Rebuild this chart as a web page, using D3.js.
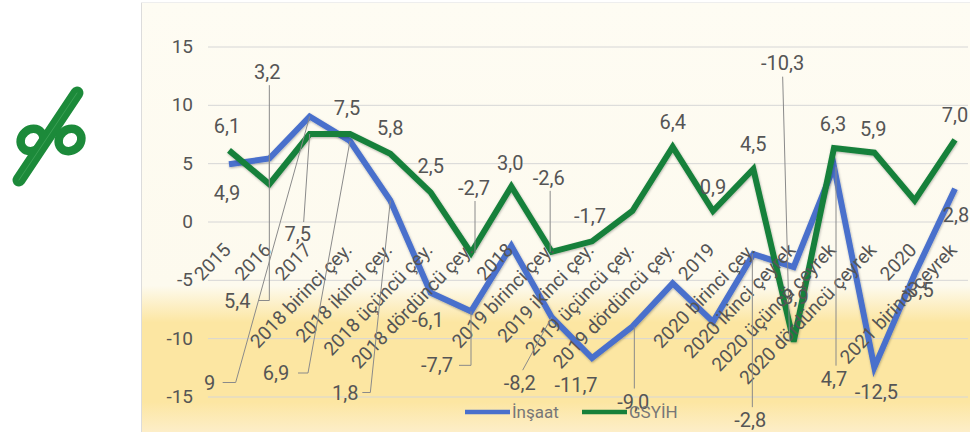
<!DOCTYPE html>
<html><head><meta charset="utf-8">
<script src="https://cdn.jsdelivr.net/npm/d3@7"></script>
<style>
html,body{margin:0;padding:0;background:#fff;}
svg{display:block;font-family:Roboto,"Noto Sans",sans-serif;}
</style></head><body>
<svg id="c" width="970" height="435"></svg>
<script>
// ---------- data ----------
const categories = ["2015","2016","2017","2018 birinci çey.","2018 ikinci çey.","2018 üçüncü çey.","2018 dördüncü çey.","2018","2019 birinci çey.","2019 ikinci çey.","2019 üçüncü çey.","2019 dördüncü çey.","2019","2020 birinci çey.","2020 ikinci çeyrek","2020 üçüncü çeyrek","2020 dördüncü çeyrek","2020","2021 birinci çeyrek"];
const insaat = [4.9,5.4,9.0,6.9,1.8,-6.1,-7.7,-2.1,-8.2,-11.7,-9.0,-5.3,-8.6,-2.8,-3.9,4.7,-12.5,-4.5,2.8];
const gsyih  = [6.1,3.2,7.5,7.5,5.8,2.5,-2.7,3.0,-2.6,-1.7,0.9,6.4,0.9,4.5,-10.3,6.3,5.9,1.8,7.0];
const insaatLabels = ["4,9","5,4","9","6,9","1,8","-6,1","-7,7",null,"-8,2","-11,7","-9,0",null,null,"-2,8","-3,9","4,7","-12,5","-3,5","2,8"];
const gsyihLabels  = ["6,1","3,2","7,5","7,5","5,8","2,5","-2,7","3,0","-2,6","-1,7",null,"6,4","0,9","4,5","-10,3","6,3","5,9",null,"7,0"];
const yTicks = [15,10,5,0,-5,-10,-15];
const seriesNames = ["İnşaat","GSYİH"];

// ---------- label layout (offsets from data point, px) ----------
const labelLayout = [
  {s:"g",i:0,dx:-2,dy:-24},
  {s:"g",i:1,dx:-2,dy:-112,lead:{t:"v",lx:2}},
  {s:"g",i:2,dx:-12,dy:100,lead:{t:"line",lx:6,ly:-12}},
  {s:"g",i:3,dx:-3,dy:-26},
  {s:"g",i:4,dx:0,dy:-26},
  {s:"g",i:5,dx:0,dy:-26},
  {s:"g",i:6,dx:3,dy:-65,lead:{t:"v",lx:1}},
  {s:"g",i:7,dx:-1,dy:-24},
  {s:"g",i:8,dx:-3,dy:-74,lead:{t:"v",lx:1.5}},
  {s:"g",i:9,dx:-2,dy:-25},
  {s:"g",i:11,dx:0,dy:-25},
  {s:"g",i:12,dx:0,dy:-24},
  {s:"g",i:13,dx:0,dy:-25},
  {s:"g",i:14,dx:-11,dy:-279,lead:{t:"line",lx:0,ly:14,ex:-4}},
  {s:"g",i:15,dx:-1,dy:-24},
  {s:"g",i:16,dx:-1,dy:-24},
  {s:"g",i:18,dx:0,dy:-25},
  {s:"b",i:0,dx:-2,dy:29},
  {s:"b",i:1,dx:-32,dy:142,lead:{t:"bracket",h0:21,h1:32}},
  {s:"b",i:2,dx:-100,dy:266,lead:{t:"bracket",h0:13,h1:26}},
  {s:"b",i:3,dx:-74,dy:232,lead:{t:"bracket",h0:22,h1:32}},
  {s:"b",i:4,dx:-45,dy:192,lead:{t:"bracket",h0:17,h1:25}},
  {s:"b",i:5,dx:-3,dy:27},
  {s:"b",i:6,dx:-34,dy:54,lead:{t:"bracket",h0:22,h1:34}},
  {s:"b",i:8,dx:-32,dy:66,lead:{t:"line",lx:3,ly:-13}},
  {s:"b",i:9,dx:-16,dy:27},
  {s:"b",i:10,dx:1,dy:75,lead:{t:"v",lx:1}},
  {s:"b",i:13,dx:-3,dy:166,lead:{t:"v",lx:2}},
  {s:"b",i:14,dx:-1,dy:30},
  {s:"b",i:15,dx:0,dy:212,lead:{t:"v",lx:2}},
  {s:"b",i:16,dx:2,dy:25},
  {s:"b",i:17,dx:3,dy:16},
  {s:"b",i:18,dx:1,dy:26}
];

// ---------- drawing ----------
const svg = d3.select("#c");
const blue = "#4a70cc", green = "#17803a", textCol = "#555";
const x = d3.scalePoint().domain(categories).range([229,955]);
const y = d3.scaleLinear().domain([-15,15]).range([396.5,46.5]);

const defs = svg.append("defs");
const gr = defs.append("linearGradient").attr("id","bg").attr("x1",0).attr("y1",0).attr("x2",0).attr("y2",1);
[[0,"#fefcf3"],[0.66,"#fdfaee"],[0.745,"#fce6a2"],[0.93,"#fce6a2"],[1,"#fdeec8"]].forEach(s=>
  gr.append("stop").attr("offset",s[0]).attr("stop-color",s[1]));
const f = defs.append("filter").attr("id","sh").attr("x","-5%").attr("y","-5%").attr("width","110%").attr("height","110%");
f.append("feDropShadow").attr("dx",0.5).attr("dy",1).attr("stdDeviation",1.2).attr("flood-color","#000").attr("flood-opacity",0.3);

// panel
svg.append("rect").attr("x",141).attr("y",2).attr("width",829).attr("height",430).attr("fill","url(#bg)");
svg.append("line").attr("x1",141.5).attr("x2",141.5).attr("y1",2).attr("y2",432).attr("stroke","#dcdcdc");
svg.append("line").attr("x1",141).attr("x2",970).attr("y1",2.5).attr("y2",2.5).attr("stroke","#eeeeee");

// percent sign
const pc = svg.append("g").attr("stroke-linecap","round").attr("fill","none");
pc.append("line").attr("x1",77).attr("y1",93).attr("x2",19).attr("y2",180).attr("stroke","#1c8a3a").attr("stroke-width",13);
pc.append("ellipse").attr("cx",32).attr("cy",140).attr("rx",12).attr("ry",10.5)
  .attr("transform","rotate(-40,32,140)").attr("stroke","#1c8a3a").attr("stroke-width",8.5);
pc.append("ellipse").attr("cx",70).attr("cy",140).attr("rx",12).attr("ry",10.5)
  .attr("transform","rotate(-40,70,140)").attr("stroke","#1c8a3a").attr("stroke-width",8.5);
pc.append("line").attr("x1",77).attr("y1",93).attr("x2",19).attr("y2",180).attr("stroke","#4fae66").attr("stroke-width",1).attr("opacity",0.6);

// grid + y axis
const yAxis = d3.axisLeft(y).tickValues(yTicks).tickSize(-(968-208)).tickPadding(15).tickFormat(d=>d);
const ga = svg.append("g").attr("transform","translate(208,0)").call(yAxis);
ga.select(".domain").remove();
ga.selectAll(".tick line").attr("stroke","#d6d6d6").attr("stroke-width",1);
ga.selectAll(".tick text").attr("fill",textCol).style("font-size","19px").style("font-family","Roboto");

// lines
const line = d3.line().x((d,i)=>x(categories[i])).y(d=>y(d));
svg.append("path").datum(insaat).attr("d",line).attr("fill","none").attr("stroke",blue)
  .attr("stroke-width",6).attr("stroke-linejoin","miter").attr("filter","url(#sh)");
svg.append("path").datum(gsyih).attr("d",line).attr("fill","none").attr("stroke",green)
  .attr("stroke-width",6).attr("stroke-linejoin","miter").attr("filter","url(#sh)");

// x labels
svg.append("g").selectAll("text").data(categories).join("text")
  .attr("transform",d=>`translate(${x(d)+3},251) rotate(-46)`)
  .attr("text-anchor","end").attr("fill",textCol).style("font-size","19px").text(d=>d);

// data labels & leaders
const lg = svg.append("g");
labelLayout.forEach(L=>{
  const vals = L.s==="g"?gsyih:insaat, texts = L.s==="g"?gsyihLabels:insaatLabels;
  const px = x(categories[L.i]), py = y(vals[L.i]);
  const lx = px+L.dx, ly = py+L.dy;
  if(L.lead){
    const a = L.lead;
    let pts;
    if(a.t==="v"){ const sy = L.dy<0? ly+13 : ly-13; pts=[[lx+a.lx,sy],[lx+a.lx,py]]; }
    else if(a.t==="line"){ pts=[[lx+a.lx,ly+a.ly],[px+(a.ex||0),py]]; }
    else { pts=[[lx+a.h0,ly],[lx+a.h1,ly],[px,py]]; }
    lg.append("path").attr("d",d3.line()(pts)).attr("stroke","#8a8a8a").attr("stroke-width",1).attr("fill","none");
  }
  lg.append("text").attr("x",lx).attr("y",ly).attr("dy","0.35em").attr("text-anchor","middle")
    .attr("fill",textCol).style("font-size","20px").text(texts[L.i]);
});

// legend
const leg = svg.append("g").attr("transform","translate(465,412)");
[[0,blue,seriesNames[0]],[117,green,seriesNames[1]]].forEach(([ox,c,t])=>{
  leg.append("line").attr("x1",ox).attr("x2",ox+45).attr("y1",0).attr("y2",0).attr("stroke",c).attr("stroke-width",4.5);
  leg.append("text").attr("x",ox+47).attr("y",0).attr("dy","0.35em").attr("fill","#777").style("font-size","17px").text(t);
});
</script>
</body></html>
